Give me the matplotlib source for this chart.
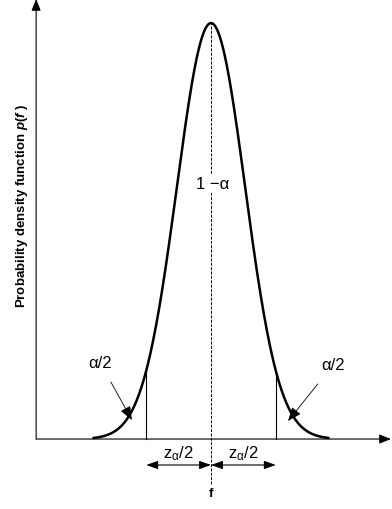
import numpy as np
import matplotlib
matplotlib.use("Agg")
import matplotlib.pyplot as plt

plt.rcParams['font.family'] = ['Liberation Sans', 'DejaVu Sans']
plt.rcParams['mathtext.fontset'] = 'custom'
plt.rcParams['mathtext.rm'] = 'Liberation Sans'
plt.rcParams['mathtext.it'] = 'Liberation Sans:italic'
plt.rcParams['mathtext.bf'] = 'Liberation Sans:bold'
plt.rcParams['mathtext.bfit'] = 'Liberation Sans:italic:bold'

# distribution (standard units)
mu = 0.0
sigma = 1.0
z_crit = 1.9          # critical value z_alpha/2
f_range = [-3.45, 3.45]

# labels
tail_label = 'α/2'
center_label = '1 −α'
z_label = r'z$_{\mathrm{α}}$/2'
x_label = 'f'
y_label = r'Probability density function $\mathbfit{p}$($\mathbfit{f}$ )'

def pdf(x):
    return np.exp(-0.5 * ((x - mu) / sigma) ** 2) / (sigma * np.sqrt(2 * np.pi))

f = np.linspace(f_range[0], f_range[1], 400)
p = pdf(f)
peak = pdf(mu)

fig = plt.figure(figsize=(3.92, 5.10), dpi=100)
ax = fig.add_axes([0, 0, 1, 1])
ax.set_xlim(-6.19, 5.31)
ax.set_ylim(-0.0671, 0.422)
ax.axis('off')

head = '-|>,head_length=0.7,head_width=0.28'

# axes with arrows
x0 = -5.13
ax.annotate('', xy=(x0, 0.422), xytext=(x0, 0),
            arrowprops=dict(arrowstyle=head, lw=0.8, color='black', shrinkA=0, shrinkB=0))
ax.annotate('', xy=(5.28, 0), xytext=(x0, 0),
            arrowprops=dict(arrowstyle=head, lw=0.8, color='black', shrinkA=0, shrinkB=0))

# curve
ax.plot(f, p, color='black', lw=1.8, solid_capstyle='round')

# critical lines
for zc in [-z_crit, z_crit]:
    ax.plot([zc, zc], [0, pdf(zc)], color='black', lw=0.8)

# center dashed line
ax.plot([mu, mu], [-0.0432, peak], color='black', lw=0.7, ls=(0, (3, 1.5)))

ax.text(mu + 0.05, 0.2455, center_label, ha='center', va='center', fontsize=12,
        bbox=dict(facecolor='white', edgecolor='none', pad=1))

# z arrows
ya = -0.0249
for a, b in [(-z_crit, mu), (mu, z_crit)]:
    ax.annotate('', xy=(a, ya), xytext=(b, ya),
                arrowprops=dict(arrowstyle='<|-|>,head_length=0.7,head_width=0.25', lw=0.8,
                                color='black', shrinkA=0, shrinkB=0))
    ax.text((a + b) / 2, -0.0128, z_label, ha='center', va='center', fontsize=12)

ax.text(mu, -0.0515, x_label, ha='center', va='center', fontsize=9.5, fontweight='bold')

# tail labels
ax.annotate(tail_label, xy=(-2.32, 0.0182), xytext=(-3.26, 0.0738), ha='center', va='center',
            fontsize=12,
            arrowprops=dict(arrowstyle=head, lw=0.6, color='black', shrinkA=8, shrinkB=0))
ax.annotate(tail_label, xy=(2.26, 0.0173), xytext=(3.58, 0.071), ha='center', va='center',
            fontsize=12,
            arrowprops=dict(arrowstyle=head, lw=0.6, color='black', shrinkA=8, shrinkB=0))

ax.text(-5.54, 0.2244, y_label, rotation=90, ha='center', va='center', fontsize=9.5,
        fontweight='bold')

fig.savefig('out.png', dpi=100, facecolor='white')
